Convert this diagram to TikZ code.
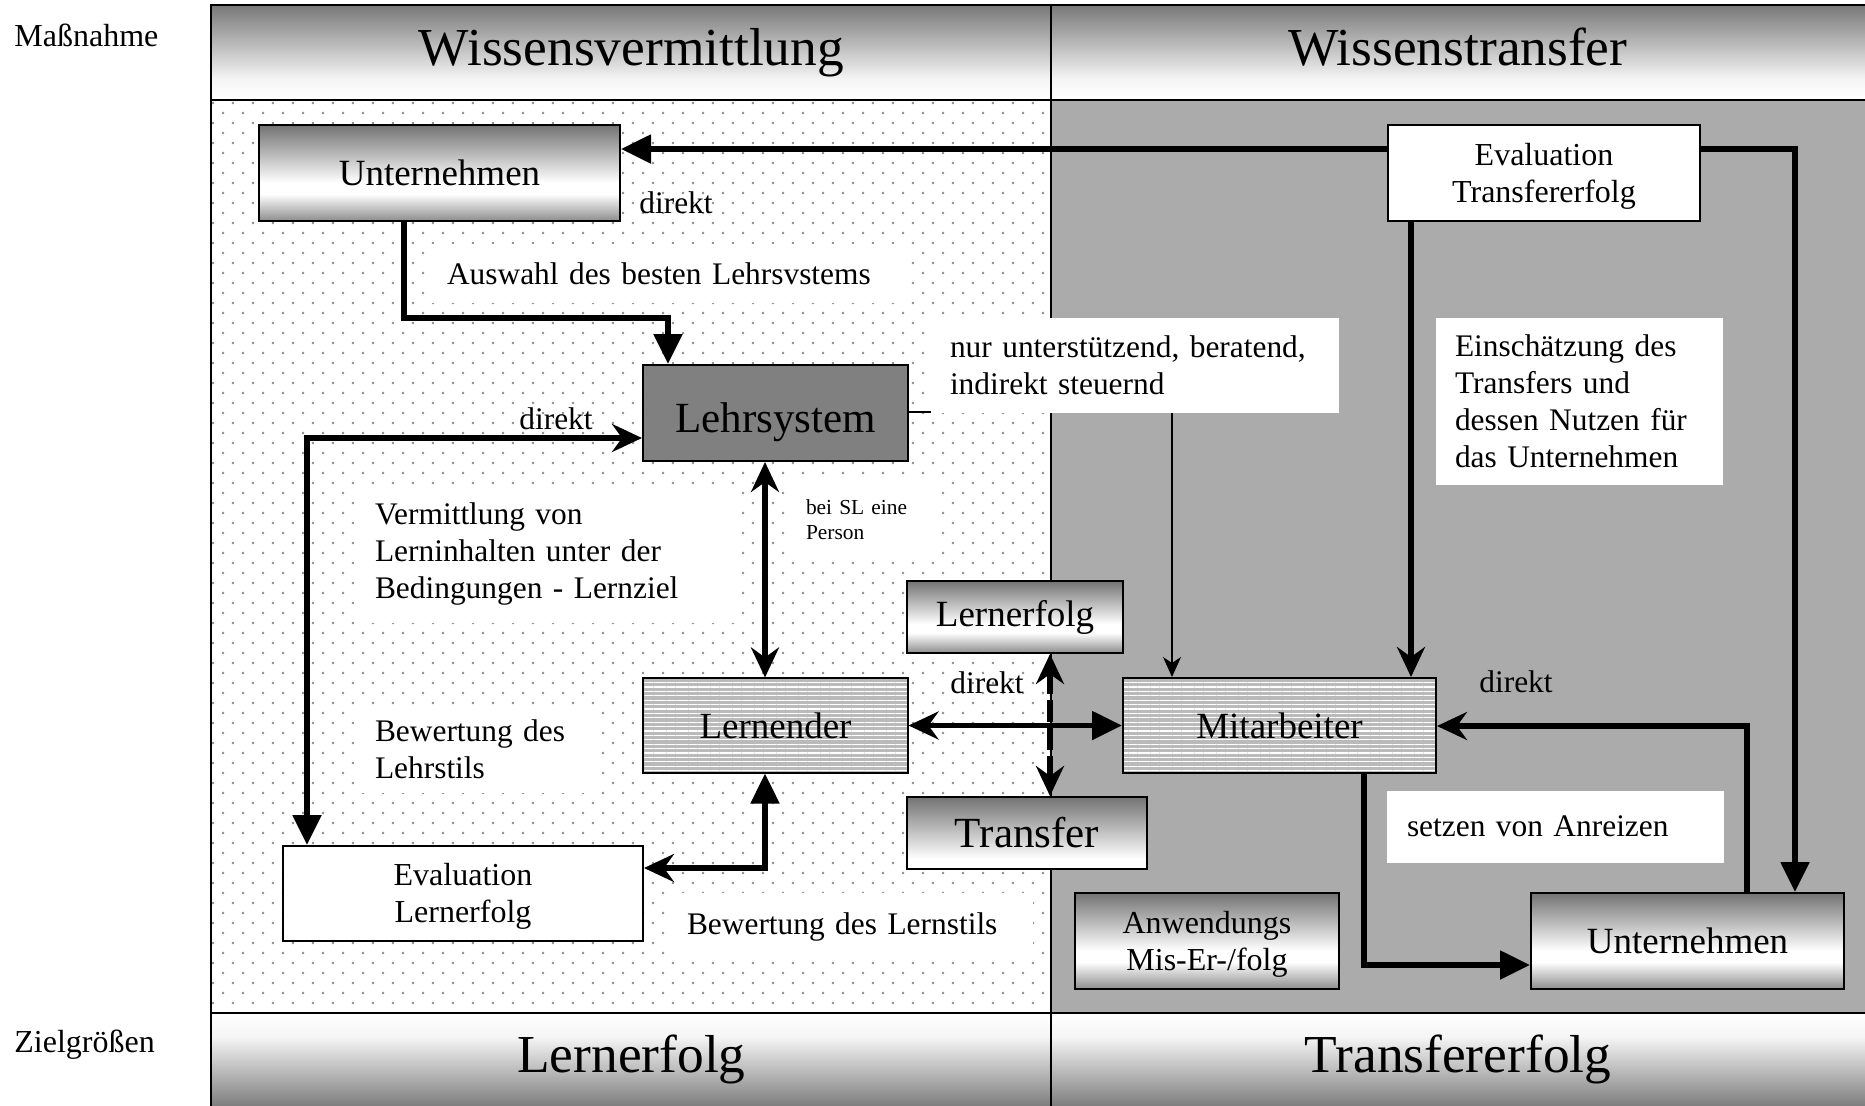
\documentclass[tikz,border=0pt]{standalone}
\usepackage{fontspec}
\setmainfont{Liberation Serif}
\usetikzlibrary{arrows.meta,patterns.meta}

\newcommand{\FontS}{\fontsize{15.7}{18.5}\selectfont}
\newcommand{\FontB}{\fontsize{16}{18.5}\selectfont}
\newcommand{\FontSide}{\fontsize{16}{18}\selectfont}
\newcommand{\FontM}{\fontsize{18.5}{22}\selectfont}
\newcommand{\FontL}{\fontsize{21.5}{25}\selectfont}
\newcommand{\FontH}{\fontsize{26.7}{32}\selectfont}
\newcommand{\FontXS}{\fontsize{10.7}{12.5}\selectfont}
\newcommand{\St}{\rule[-0.216em]{0pt}{1.107em}}

\pgfdeclareverticalshading{hdrshade}{100bp}{color(0bp)=(white); color(25bp)=(white); color(36bp)=(black!4); color(75bp)=(black!53); color(100bp)=(black!53)}
\pgfdeclareverticalshading{ftrshade}{100bp}{color(0bp)=(black!50); color(25bp)=(black!50); color(62bp)=(black!4); color(75bp)=(white); color(100bp)=(white)}
\pgfdeclareverticalshading{boxshade}{100bp}{color(0bp)=(black!45); color(25bp)=(black!45); color(39bp)=(white); color(45bp)=(white); color(75bp)=(black!55); color(100bp)=(black!55)}
\pgfdeclareverticalshading{trshade}{100bp}{color(0bp)=(white); color(25bp)=(white); color(32bp)=(white); color(75bp)=(black!55); color(100bp)=(black!55)}

\tikzset{
  TriA/.tip={Triangle[length=15pt,width=14pt]},
  StlA/.tip={Stealth[length=15pt,width=14pt,inset=5pt]},
}

\begin{document}
\begin{tikzpicture}[x=0.5pt,y=-0.5pt,
  conn/.style={line width=2.6pt, black},
  thinconn/.style={line width=0.8pt, black, -{Stealth[length=10pt,width=9pt,inset=3pt]}},
  frameline/.style={line width=1pt, black},
  band/.style={inner sep=0pt, minimum height=47.5pt, font=\FontH},
  box/.style={draw=black, line width=1pt, inner sep=0pt, align=center},
  tb/.style={text height=#1, text depth=0pt},
  lined/.style={preaction={fill=black!27}, pattern={Lines[angle=0,distance=2.2pt,line width=0.55pt]}, pattern color=white},
  lbl/.style={fill=white, inner ysep=0pt, align=left, font=\FontS},
  word/.style={anchor=west, inner sep=0pt, font=\FontS},
  dotc/.style={fill=black!45},
]
\useasboundingbox (0,0) rectangle (1865,1105);

% background regions
\path[fill=white] (211,100) rectangle (1051,1013);
\foreach \r in {0,...,90}{
  \pgfmathsetmacro{\xo}{mod(\r,2)*10}
  \foreach \c in {0,...,41}{
    \path[dotc] ({213+\xo+20*\c},{103+10*\r}) circle[radius=0.65pt];
  }
}
\path[fill=black!33] (1051,100) rectangle (1870,1013);

% header and footer bands
\node[band, tb=12.5pt, shading=hdrshade, minimum width=419.5pt] (hdrL) at (631.5,52.5) {Wissensvermittlung};
\node[band, tb=12.5pt, shading=hdrshade, minimum width=407pt] (hdrR) at (1458,52.5) {Wissenstransfer};
\node[band, shading=ftrshade, minimum width=419.5pt, minimum height=46pt] (ftrL) at (631.5,1059) {Lernerfolg};
\node[band, shading=ftrshade, minimum width=407pt, minimum height=46pt] (ftrR) at (1458,1059) {Transfererfolg};

% frame
\draw[frameline] (1870,5) -- (211,5) -- (211,1110);
\draw[frameline] (211,100) -- (1870,100);
\draw[frameline] (211,1013) -- (1870,1013);
\draw[frameline] (1051,5) -- (1051,1110);

% side labels
\node[anchor=west, inner sep=0pt, font=\FontSide] (massn) at (14,35) {Maßnahme};
\node[anchor=west, inner sep=0pt, font=\FontSide] (ziel) at (14,1045) {Zielgrößen};

% boxes
\node[box, shading=boxshade, minimum width=180.5pt, minimum height=48pt, font=\FontM] (untTL) at (439.5,173) {Unternehmen};
\node[box, tb=19pt, fill=black!50, minimum width=132.5pt, minimum height=48pt, font=\FontL] (lehr) at (775.5,413) {Lehrsystem};
\node[box, lined, minimum width=132.5pt, minimum height=47.5pt, font=\FontM] (lern) at (775.5,725.5) {Lernender};
\node[box, fill=white, minimum width=180pt, minimum height=47.5pt, font=\FontB] (evalL) at (463,893.5) {\St Evaluation\\Lernerfolg};
\node[box, fill=white, minimum width=156pt, minimum height=48pt, font=\FontB] (evalT) at (1544,173) {\St Evaluation\\Transfererfolg};
\node[box, shading=boxshade, minimum width=108pt, minimum height=36pt, font=\FontM] (lerf) at (1015,617) {Lernerfolg};
\node[box, shading=trshade, minimum width=120pt, minimum height=36pt, font=\FontL] (trans) at (1027,833) {Transfer};
\node[box, lined, minimum width=156.5pt, minimum height=47.5pt, font=\FontM] (mit) at (1279.5,725.5) {Mitarbeiter};
\node[box, shading=boxshade, minimum width=132pt, minimum height=48pt, font=\FontB] (anw) at (1207,941) {\St Anwendungs\\Mis-Er-/folg};
\node[box, shading=boxshade, minimum width=156.5pt, minimum height=48pt, font=\FontM] (untBR) at (1687.5,941) {Unternehmen};

% thin connector (under label box)
\coordinate (pT) at (1172,412);
\draw[thinconn] (lehr.east |- pT) -- (pT) -- (mit.north -| pT);

% label boxes
\node[lbl, inner xsep=10pt, text width=219.5pt, minimum height=29.5pt] (lbAus) at (666.5,273.5) {Auswahl des besten Lehrsvstems};
\node[lbl, inner xsep=9.5pt, text width=185pt, minimum height=47.5pt] (lbNur) at (1135,365.5) {nur unterstützend, beratend,\\indirekt steuernd};
\node[lbl, inner xsep=9.5pt, text width=124.5pt, minimum height=83.5pt] (lbEin) at (1579.5,401.5) {Einschätzung des\\Transfers und\\dessen Nutzen für\\das Unternehmen};
\node[lbl, inner xsep=10.5pt, text width=172.5pt, minimum height=68.5pt] (lbVerm) at (547.5,554) {Vermittlung von\\Lerninhalten unter der\\Bedingungen - Lernziel};
\node[lbl, inner xsep=10pt, text width=54.5pt, minimum height=39pt, font=\FontXS] (lbSL) at (860.5,519.5) {bei SL eine\\Person};
\node[lbl, inner xsep=10.5pt, text width=102pt, minimum height=43.5pt] (lbLehr) at (477,749) {Bewertung des\\Lehrstils};
\node[lbl, inner xsep=8.5pt, text width=164.5pt, minimum height=33.5pt] (lbLern) at (851.5,926.5) {Bewertung des Lernstils};
\node[lbl, inner xsep=10pt, text width=148.5pt, minimum height=36pt] (lbAnr) at (1555.5,826.5) {setzen von Anreizen};

% direkt labels
\node[word] (d1) at (639,203) {direkt};
\node[word] (d2) at (519,419) {direkt};
\node[word] (d3) at (950,683) {direkt};
\node[word] (d4) at (1479,682) {direkt};

% thick connectors
\coordinate (pA1) at (1795,149);
\draw[conn,-TriA] (evalT.west |- pA1) -- (untTL.east |- pA1);
\draw[conn,-TriA] (evalT.east |- pA1) -- (pA1) -- (untBR.north -| pA1);

\coordinate (pA2a) at (404,318);
\coordinate (pA2b) at (668,318);
\draw[conn,-TriA] (untTL.south -| pA2a) -- (pA2a) -- (pA2b) -- (lehr.north -| pA2b);

\coordinate (pA3) at (307,438);
\draw[conn,TriA-StlA] (evalL.north -| pA3) -- (pA3) -- (lehr.west |- pA3);

\coordinate (pA4) at (765,560);
\draw[conn,StlA-StlA] (lehr.south -| pA4) -- (lern.north -| pA4);

\coordinate (pA5) at (765,868);
\draw[conn,TriA-StlA] (lern.south -| pA5) -- (pA5) -- (evalL.east |- pA5);

\draw[conn,StlA-TriA] (lern.east) -- (mit.west);

\coordinate (pA7) at (1050,725);
\draw[conn,StlA-StlA,dash pattern=on 11pt off 3pt] (lerf.south -| pA7) -- (trans.north -| pA7);

\coordinate (pA8) at (1411,400);
\draw[conn,-StlA] (evalT.south -| pA8) -- (mit.north -| pA8);

\coordinate (pA10) at (1747,726);
\draw[conn,-StlA] (untBR.north -| pA10) -- (pA10) -- (mit.east |- pA10);

\coordinate (pA11) at (1364,965);
\draw[conn,-TriA] (mit.south -| pA11) -- (pA11) -- (untBR.west |- pA11);
\end{tikzpicture}
\end{document}
